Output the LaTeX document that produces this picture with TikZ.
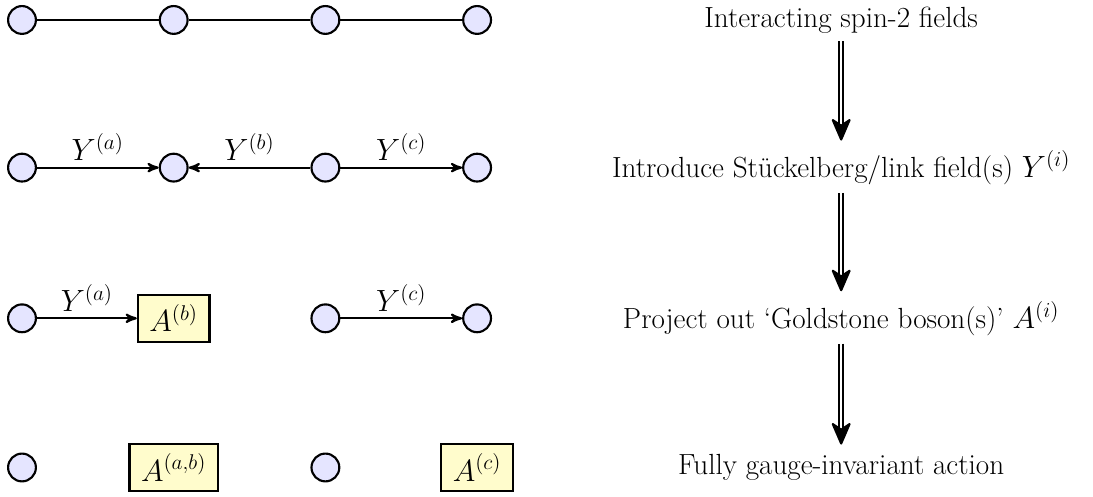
\documentclass[tikz,border=0pt]{standalone}
\usepackage{amsmath}
\usepackage{amssymb}
\usepackage{tikz}
\usetikzlibrary{arrows}
\usetikzlibrary{arrows.meta}
\usetikzlibrary{positioning}
\usetikzlibrary{calc}

\begin{document}
\begin{tikzpicture}[
	site/.style={draw,line width=1.2pt,circle,fill=blue!10,minimum size=0.55cm,inner sep=0pt},
	gold/.style={draw,line width=1.2pt,fill=yellow!20,minimum height=0.92cm,inner xsep=6.5pt,font=\fontsize{18}{21}\selectfont},
	link/.style={line width=1.2pt,->,>=stealth'},
	lab/.style={above,font=\fontsize{16.4}{20}\selectfont},
	stage/.style={font=\fontsize{16.4}{20}\selectfont},
	flow/.style={double,double distance=1.1pt,line width=1.2pt,-{Stealth[length=14pt,width=12pt,inset=4pt,round]},shorten <=1pt,shorten >=2pt}]
	\useasboundingbox (-0.435,0.395) rectangle (21.18,-9.43);
	% row 1: interacting fields
	\node[site](S11) at (0,0){};
	\node[site](S12) at (3,0){};
	\node[site](S13) at (6,0){};
	\node[site](S14) at (9,0){};
	\draw[line width=1.2pt] (S11) -- (S12) -- (S13) -- (S14);
	% row 2: link fields
	\node[site](S21) at (0,-2.92){};
	\node[site](S22) at (3,-2.92){};
	\node[site](S23) at (6,-2.92){};
	\node[site](S24) at (9,-2.92){};
	\draw[link] (S21) -- node[lab]{$Y^{(a)}$} (S22);
	\draw[link] (S23) -- node[lab]{$Y^{(b)}$} (S22);
	\draw[link] (S23) -- node[lab]{$Y^{(c)}$} (S24);
	% row 3: one Goldstone boson
	\node[site](S31) at (0,-5.9){};
	\node[gold](G32) at (3,-5.9){$A^{(b)}$};
	\node[site](S33) at (6,-5.9){};
	\node[site](S34) at (9,-5.9){};
	\draw[link] (S31) -- node[lab]{$Y^{(a)}$} (G32);
	\draw[link] (S33) -- node[lab]{$Y^{(c)}$} (S34);
	% row 4: gauge invariant
	\node[site](S41) at (0,-8.85){};
	\node[gold](G42) at (3,-8.85){$A^{(a,b)}$};
	\node[site](S43) at (6,-8.85){};
	\node[gold](G44) at (9,-8.85){$A^{(c)}$};
	% right column
	\node[stage](T1) at (16.2,0){Interacting spin-2 fields};
	\node[stage](T2) at (16.2,-2.92){Introduce St\"uckelberg/link field(s) $Y^{(i)}$};
	\node[stage](T3) at (16.2,-5.9){Project out `Goldstone boson(s)' $A^{(i)}$};
	\node[stage](T4) at (16.2,-8.85){Fully gauge-invariant action};
	\draw[flow] (T1) -- (T2);
	\draw[flow] (T2) -- (T3);
	\draw[flow] (T3) -- (T4);
\end{tikzpicture}
\end{document}
